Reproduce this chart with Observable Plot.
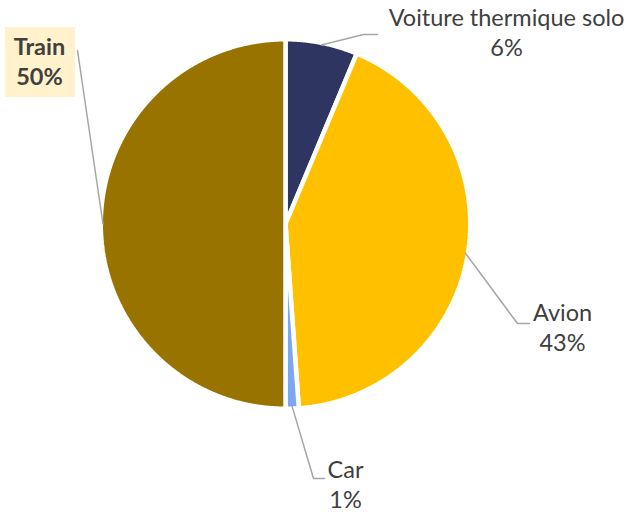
<!DOCTYPE html>
<html>
<head>
<meta charset="utf-8">
<script src="https://cdn.jsdelivr.net/npm/d3@7"></script>
<script src="https://cdn.jsdelivr.net/npm/@observablehq/plot@0.6"></script>
<style>
  html, body { margin: 0; padding: 0; background: #fff; }
  #chart svg { display: block; }
</style>
</head>
<body>
<div id="chart"></div>
<script>
// ---- data ----
const categories = ["Voiture thermique solo", "Avion", "Car", "Train"];
const shares = [6.3, 42.55, 1.15, 50.0];
const shareLabels = ["6%", "43%", "1%", "50%"];
const colors = ["#2E3561", "#FFC000", "#7DA6F2", "#997300"];

// ---- layout (pixels) ----
const W = 628, H = 512;
const SW = 4.5;                 // white separator width
const cx = 285, cy = 223.5, R = 182.5 + SW / 2;
const labelLayout = {
  "Voiture thermique solo": {elbow: [363, 34], end: [377, 34], tx: 506, ty: 4},
  "Avion": {elbow: [517, 323], end: [529, 323], tx: 562, ty: 299},
  "Car": {elbow: [313, 478], end: [324, 478], tx: 345, ty: 456},
  "Train": {elbow: null, end: [77, 50], tx: 39, ty: 33, box: [5, 27, 75, 97]}
};

// ---- slice geometry from the values ----
const pie = d3.pie().sort(null).value(d => d)(shares);
const slicePts = [];
const leaderPts = [];
const labels = [];
pie.forEach((p, i) => {
  const cat = categories[i];
  slicePts.push({cat, x: cx, y: cy});
  const n = Math.max(4, Math.ceil((p.endAngle - p.startAngle) / 0.005));
  for (let k = 0; k <= n; k++) {
    const a = p.startAngle + (p.endAngle - p.startAngle) * k / n;
    slicePts.push({cat, x: cx + R * Math.sin(a), y: cy - R * Math.cos(a)});
  }
  slicePts.push({cat, x: cx, y: cy});
  const mid = (p.startAngle + p.endAngle) / 2;
  const rEdge = R - SW / 2;
  const L = labelLayout[cat];
  leaderPts.push({cat, x: cx + rEdge * Math.sin(mid), y: cy - rEdge * Math.cos(mid)});
  if (L.elbow) leaderPts.push({cat, x: L.elbow[0], y: L.elbow[1]});
  leaderPts.push({cat, x: L.end[0], y: L.end[1]});
  labels.push({cat, text: cat + "\n" + shareLabels[i], x: L.tx, y: L.ty, bold: cat === "Train"});
});
const boxes = categories.filter(c => labelLayout[c].box).map(c => {
  const b = labelLayout[c].box; return {x1: b[0], y1: b[1], x2: b[2], y2: b[3]};
});

const textOpts = {x: "x", y: "y", text: "text", lineAnchor: "top", textAnchor: "middle", fontSize: 23.5, lineHeight: 1.28, fill: "#404040"};

const chart = Plot.plot({
  width: W, height: H,
  margin: 0,
  style: {fontFamily: "Lato, sans-serif", background: "#fff"},
  x: {domain: [0, W], range: [0, W], axis: null},
  y: {domain: [0, H], range: [0, H], axis: null},
  color: {domain: categories, range: colors},
  marks: [
    Plot.line(slicePts, {x: "x", y: "y", z: "cat", fill: "cat", stroke: "#fff", strokeWidth: SW, strokeLinejoin: "miter", curve: "linear"}),
    Plot.line(leaderPts, {x: "x", y: "y", z: "cat", stroke: "#A6A6A6", strokeWidth: 1.5}),
    Plot.rect(boxes, {x1: "x1", x2: "x2", y1: "y1", y2: "y2", fill: "#FFF2CC"}),
    Plot.text(labels.filter(d => !d.bold), textOpts),
    Plot.text(labels.filter(d => d.bold), {...textOpts, fontWeight: "bold"})
  ]
});
document.getElementById("chart").appendChild(chart);
</script>
</body>
</html>
